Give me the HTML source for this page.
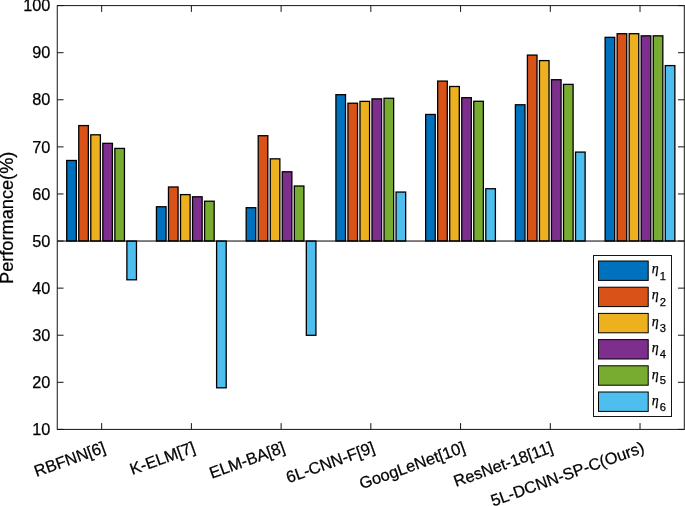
<!DOCTYPE html><html><head><meta charset="utf-8"><style>html,body{margin:0;padding:0;background:#fff;width:685px;height:506px;overflow:hidden}svg{display:block}text{font-family:"Liberation Sans",Arial,sans-serif;fill:#000;stroke:#000;stroke-width:0.25px}</style></head><body>
<svg width="685" height="506" viewBox="0 0 685 506">
<rect x="66.73" y="160.48" width="9.60" height="80.57" fill="#0072BD" stroke="#000" stroke-width="1.3"/>
<rect x="78.76" y="125.58" width="9.60" height="115.46" fill="#D95319" stroke="#000" stroke-width="1.3"/>
<rect x="90.79" y="134.81" width="9.60" height="106.23" fill="#EDB120" stroke="#000" stroke-width="1.3"/>
<rect x="102.82" y="143.33" width="9.60" height="97.71" fill="#7E2F8E" stroke="#000" stroke-width="1.3"/>
<rect x="114.85" y="148.42" width="9.60" height="92.62" fill="#77AC30" stroke="#000" stroke-width="1.3"/>
<rect x="126.87" y="241.04" width="9.60" height="38.75" fill="#4DBEEE" stroke="#000" stroke-width="1.3"/>
<rect x="156.45" y="206.76" width="9.60" height="34.28" fill="#0072BD" stroke="#000" stroke-width="1.3"/>
<rect x="168.48" y="186.99" width="9.60" height="54.06" fill="#D95319" stroke="#000" stroke-width="1.3"/>
<rect x="180.51" y="194.61" width="9.60" height="46.43" fill="#EDB120" stroke="#000" stroke-width="1.3"/>
<rect x="192.54" y="196.78" width="9.60" height="44.26" fill="#7E2F8E" stroke="#000" stroke-width="1.3"/>
<rect x="204.57" y="201.21" width="9.60" height="39.84" fill="#77AC30" stroke="#000" stroke-width="1.3"/>
<rect x="216.60" y="241.04" width="9.60" height="146.78" fill="#4DBEEE" stroke="#000" stroke-width="1.3"/>
<rect x="246.19" y="207.71" width="9.60" height="33.34" fill="#0072BD" stroke="#000" stroke-width="1.3"/>
<rect x="258.21" y="135.71" width="9.60" height="105.34" fill="#D95319" stroke="#000" stroke-width="1.3"/>
<rect x="270.25" y="158.83" width="9.60" height="82.22" fill="#EDB120" stroke="#000" stroke-width="1.3"/>
<rect x="282.27" y="171.78" width="9.60" height="69.27" fill="#7E2F8E" stroke="#000" stroke-width="1.3"/>
<rect x="294.31" y="186.00" width="9.60" height="55.05" fill="#77AC30" stroke="#000" stroke-width="1.3"/>
<rect x="306.33" y="241.04" width="9.60" height="94.27" fill="#4DBEEE" stroke="#000" stroke-width="1.3"/>
<rect x="335.92" y="94.69" width="9.60" height="146.35" fill="#0072BD" stroke="#000" stroke-width="1.3"/>
<rect x="347.94" y="103.22" width="9.60" height="137.83" fill="#D95319" stroke="#000" stroke-width="1.3"/>
<rect x="359.98" y="101.38" width="9.60" height="139.67" fill="#EDB120" stroke="#000" stroke-width="1.3"/>
<rect x="372.00" y="98.88" width="9.60" height="142.16" fill="#7E2F8E" stroke="#000" stroke-width="1.3"/>
<rect x="384.04" y="98.27" width="9.60" height="142.77" fill="#77AC30" stroke="#000" stroke-width="1.3"/>
<rect x="396.06" y="192.07" width="9.60" height="48.97" fill="#4DBEEE" stroke="#000" stroke-width="1.3"/>
<rect x="425.65" y="114.47" width="9.60" height="126.57" fill="#0072BD" stroke="#000" stroke-width="1.3"/>
<rect x="437.68" y="81.08" width="9.60" height="159.96" fill="#D95319" stroke="#000" stroke-width="1.3"/>
<rect x="449.71" y="86.50" width="9.60" height="154.55" fill="#EDB120" stroke="#000" stroke-width="1.3"/>
<rect x="461.74" y="97.71" width="9.60" height="143.34" fill="#7E2F8E" stroke="#000" stroke-width="1.3"/>
<rect x="473.77" y="101.28" width="9.60" height="139.76" fill="#77AC30" stroke="#000" stroke-width="1.3"/>
<rect x="485.80" y="188.73" width="9.60" height="52.32" fill="#4DBEEE" stroke="#000" stroke-width="1.3"/>
<rect x="515.38" y="104.77" width="9.60" height="136.28" fill="#0072BD" stroke="#000" stroke-width="1.3"/>
<rect x="527.41" y="55.09" width="9.60" height="185.95" fill="#D95319" stroke="#000" stroke-width="1.3"/>
<rect x="539.44" y="60.60" width="9.60" height="180.44" fill="#EDB120" stroke="#000" stroke-width="1.3"/>
<rect x="551.47" y="79.72" width="9.60" height="161.33" fill="#7E2F8E" stroke="#000" stroke-width="1.3"/>
<rect x="563.50" y="84.38" width="9.60" height="156.66" fill="#77AC30" stroke="#000" stroke-width="1.3"/>
<rect x="575.53" y="152.09" width="9.60" height="88.95" fill="#4DBEEE" stroke="#000" stroke-width="1.3"/>
<rect x="605.11" y="37.34" width="9.60" height="203.71" fill="#0072BD" stroke="#000" stroke-width="1.3"/>
<rect x="617.14" y="33.71" width="9.60" height="207.33" fill="#D95319" stroke="#000" stroke-width="1.3"/>
<rect x="629.17" y="33.71" width="9.60" height="207.33" fill="#EDB120" stroke="#000" stroke-width="1.3"/>
<rect x="641.20" y="35.83" width="9.60" height="205.21" fill="#7E2F8E" stroke="#000" stroke-width="1.3"/>
<rect x="653.23" y="35.83" width="9.60" height="205.21" fill="#77AC30" stroke="#000" stroke-width="1.3"/>
<rect x="665.26" y="65.59" width="9.60" height="175.45" fill="#4DBEEE" stroke="#000" stroke-width="1.3"/>
<line x1="57.25" y1="241.04" x2="684.3" y2="241.04" stroke="#000" stroke-width="1"/>
<rect x="57.25" y="5.6" width="627.05" height="423.80" fill="none" stroke="#151515" stroke-width="1.0"/>
<path d="M57.25 429.40h6.3M684.30 429.40h-6.3M57.25 382.31h6.3M684.30 382.31h-6.3M57.25 335.22h6.3M684.30 335.22h-6.3M57.25 288.13h6.3M684.30 288.13h-6.3M57.25 241.04h6.3M684.30 241.04h-6.3M57.25 193.96h6.3M684.30 193.96h-6.3M57.25 146.87h6.3M684.30 146.87h-6.3M57.25 99.78h6.3M684.30 99.78h-6.3M57.25 52.69h6.3M684.30 52.69h-6.3M57.25 5.60h6.3M684.30 5.60h-6.3M101.65 429.40v-6.3M101.65 5.60v6.3M191.38 429.40v-6.3M191.38 5.60v6.3M281.11 429.40v-6.3M281.11 5.60v6.3M370.84 429.40v-6.3M370.84 5.60v6.3M460.57 429.40v-6.3M460.57 5.60v6.3M550.30 429.40v-6.3M550.30 5.60v6.3M640.03 429.40v-6.3M640.03 5.60v6.3" stroke="#151515" stroke-width="1.0" fill="none"/>
<text x="50.4" y="435.05" font-size="16.3" text-anchor="end">10</text>
<text x="50.4" y="387.96" font-size="16.3" text-anchor="end">20</text>
<text x="50.4" y="340.87" font-size="16.3" text-anchor="end">30</text>
<text x="50.4" y="293.78" font-size="16.3" text-anchor="end">40</text>
<text x="50.4" y="246.69" font-size="16.3" text-anchor="end">50</text>
<text x="50.4" y="199.61" font-size="16.3" text-anchor="end">60</text>
<text x="50.4" y="152.52" font-size="16.3" text-anchor="end">70</text>
<text x="50.4" y="105.43" font-size="16.3" text-anchor="end">80</text>
<text x="50.4" y="58.34" font-size="16.3" text-anchor="end">90</text>
<text x="50.4" y="11.25" font-size="16.3" text-anchor="end">100</text>
<text transform="translate(12.6,217.8) rotate(-90)" font-size="18.2" text-anchor="middle">Performance(%)</text>
<text transform="translate(106.65,452.00) rotate(-19.7)" font-size="16.35" text-anchor="end">RBFNN[6]</text>
<text transform="translate(196.38,452.00) rotate(-19.7)" font-size="16.35" text-anchor="end">K-ELM[7]</text>
<text transform="translate(286.11,452.00) rotate(-19.7)" font-size="16.35" text-anchor="end">ELM-BA[8]</text>
<text transform="translate(375.84,452.00) rotate(-19.7)" font-size="16.35" text-anchor="end">6L-CNN-F[9]</text>
<text transform="translate(466.17,452.00) rotate(-19.7)" font-size="16.35" text-anchor="end">GoogLeNet[10]</text>
<text transform="translate(554.10,452.00) rotate(-19.7)" font-size="16.35" text-anchor="end">ResNet-18[11]</text>
<text transform="translate(645.43,452.00) rotate(-19.7)" font-size="16.35" text-anchor="end">5L-DCNN-SP-C(Ours)</text>
<rect x="593.5" y="255.5" width="78.0" height="161.0" fill="#fff" stroke="#151515" stroke-width="1"/>
<rect x="598.5" y="261.00" width="49.7" height="19.4" fill="#0072BD" stroke="#000" stroke-width="1"/>
<text x="651.8" y="273.10" font-size="14" style="font-family:&quot;Liberation Serif&quot;,serif;font-style:italic">η</text>
<text x="659.8" y="279.60" font-size="11.2">1</text>
<rect x="598.5" y="287.20" width="49.7" height="19.4" fill="#D95319" stroke="#000" stroke-width="1"/>
<text x="651.8" y="299.45" font-size="14" style="font-family:&quot;Liberation Serif&quot;,serif;font-style:italic">η</text>
<text x="659.8" y="305.80" font-size="11.2">2</text>
<rect x="598.5" y="313.40" width="49.7" height="19.4" fill="#EDB120" stroke="#000" stroke-width="1"/>
<text x="651.8" y="325.80" font-size="14" style="font-family:&quot;Liberation Serif&quot;,serif;font-style:italic">η</text>
<text x="659.8" y="332.00" font-size="11.2">3</text>
<rect x="598.5" y="339.60" width="49.7" height="19.4" fill="#7E2F8E" stroke="#000" stroke-width="1"/>
<text x="651.8" y="352.15" font-size="14" style="font-family:&quot;Liberation Serif&quot;,serif;font-style:italic">η</text>
<text x="659.8" y="358.20" font-size="11.2">4</text>
<rect x="598.5" y="365.80" width="49.7" height="19.4" fill="#77AC30" stroke="#000" stroke-width="1"/>
<text x="651.8" y="378.50" font-size="14" style="font-family:&quot;Liberation Serif&quot;,serif;font-style:italic">η</text>
<text x="659.8" y="384.40" font-size="11.2">5</text>
<rect x="598.5" y="392.00" width="49.7" height="19.4" fill="#4DBEEE" stroke="#000" stroke-width="1"/>
<text x="651.8" y="404.85" font-size="14" style="font-family:&quot;Liberation Serif&quot;,serif;font-style:italic">η</text>
<text x="659.8" y="410.60" font-size="11.2">6</text>
</svg></body></html>
